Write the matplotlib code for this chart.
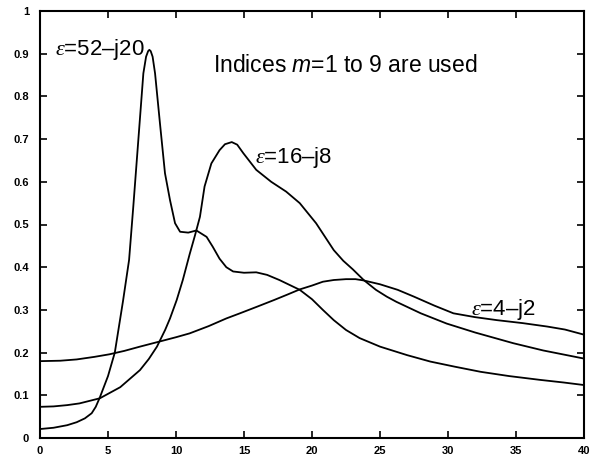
import matplotlib
matplotlib.use('Agg')
import matplotlib.pyplot as plt

####################################################################################################

plt.rcParams['font.family'] = ['Liberation Sans', 'DejaVu Sans']
plt.rcParams['mathtext.fontset'] = 'custom'
plt.rcParams['mathtext.rm'] = 'Liberation Sans'
plt.rcParams['mathtext.it'] = 'Liberation Serif:italic'
plt.rcParams['mathtext.sf'] = 'Liberation Sans:italic'

####################################################################################################

## curve for eps = 52-j20
x_52 = [0, 1, 2, 2.7, 3.3, 3.8, 4.1, 4.4, 5.0, 5.5, 6.1, 6.55, 6.86, 7.23, 7.6, 7.8, 7.95, 8.04,
        8.14, 8.28, 8.46, 8.82, 9.19, 9.56, 9.93, 10.3, 10.9, 11.5, 12.25, 12.7, 13.2, 13.7, 14.2,
        15.0, 15.9, 16.7, 17.6, 19.1, 20.0, 20.8, 21.6, 22.5, 23.5, 25, 27, 28.7, 30.5, 32.4,
        34.5, 36.8, 38.5, 40]
y_52 = [0.021, 0.024, 0.030, 0.037, 0.046, 0.058, 0.073, 0.095, 0.145, 0.200, 0.320, 0.417, 0.542,
        0.698, 0.854, 0.893, 0.906, 0.909, 0.906, 0.893, 0.854, 0.737, 0.620, 0.557, 0.503, 0.483,
        0.481, 0.486, 0.471, 0.448, 0.420, 0.400, 0.390, 0.387, 0.388, 0.382, 0.370, 0.347, 0.325,
        0.300, 0.276, 0.253, 0.234, 0.214, 0.194, 0.179, 0.167, 0.155, 0.145, 0.136, 0.130, 0.124]

## curve for eps = 16-j8
x_16 = [0, 1, 2, 2.9, 4.4, 5.9, 7.35, 8.0, 8.6, 9.2, 9.56, 10.05, 10.5, 11.0, 11.4, 11.76, 12.1,
        12.6, 13.2, 13.6, 14.1, 14.5, 14.95, 15.9, 17.0, 18.1, 19.1, 20.3, 21.6, 22.3, 23.0, 23.8,
        24.7, 25.5, 26.2, 28, 29.9, 32, 34.8, 37, 40]
y_16 = [0.073, 0.074, 0.077, 0.081, 0.093, 0.119, 0.159, 0.185, 0.214, 0.253, 0.280, 0.323, 0.370,
        0.430, 0.475, 0.518, 0.589, 0.643, 0.674, 0.688, 0.693, 0.687, 0.667, 0.628, 0.600, 0.577,
        0.550, 0.503, 0.440, 0.415, 0.395, 0.370, 0.347, 0.331, 0.319, 0.292, 0.268, 0.247, 0.222,
        0.205, 0.186]

## curve for eps = 4-j2
x_4 = [0, 1.5, 2.7, 4, 5.1, 6.2, 7.35, 8.8, 10, 11, 12.4, 13.7, 14.7, 16, 17.2, 18.2, 19.1, 20.0,
       20.8, 21.6, 22.5, 23.2, 23.8, 25, 26.3, 27.5, 29, 30.4, 32, 33.6, 35.5, 37.3, 38.6, 40]
y_4 = [0.180, 0.181, 0.184, 0.190, 0.196, 0.204, 0.214, 0.226, 0.236, 0.245, 0.262, 0.280, 0.292,
       0.308, 0.323, 0.336, 0.348, 0.357, 0.366, 0.370, 0.372, 0.372, 0.369, 0.360, 0.347, 0.331,
       0.310, 0.292, 0.283, 0.276, 0.269, 0.261, 0.254, 0.242]

x_ticks = [0, 5, 10, 15, 20, 25, 30, 35, 40]
y_ticks = [0, 0.1, 0.2, 0.3, 0.4, 0.5, 0.6, 0.7, 0.8, 0.9, 1]
y_tick_labels = ['0', '0.1', '0.2', '0.3', '0.4', '0.5', '0.6', '0.7', '0.8', '0.9', '1']

####################################################################################################

figure = plt.figure(figsize=(5.96, 4.58), dpi=100)
ax = figure.add_axes([40/596, 20/458, 544/596, 427/458])

for x, y in ((x_52, y_52), (x_16, y_16), (x_4, y_4)):
    ax.plot(x, y, color='black', linewidth=1.3, solid_joinstyle='round')

ax.set_xlim(0, 40)
ax.set_ylim(0, 1)
ax.set_xticks(x_ticks)
ax.set_yticks(y_ticks)
ax.set_yticklabels(y_tick_labels)
ax.tick_params(direction='in', length=5, width=1.2, top=True, right=True,
               labelsize=8)
ax.tick_params(axis='y', pad=8)
ax.tick_params(axis='x', pad=6)
for label in ax.get_xticklabels() + ax.get_yticklabels():
    label.set_fontweight('bold')
for spine in ax.spines.values():
    spine.set_linewidth(1.5)

ax.text(1.1, 0.909, r'$\varepsilon$=52–j20', fontsize=16, va='center', ha='left')
ax.text(15.8, 0.658, r'$\varepsilon$=16–j8', fontsize=16, va='center', ha='left')
ax.text(31.7, 0.30, r'$\varepsilon$=4–j2', fontsize=16, va='center', ha='left')
ax.text(12.7, 0.873, r'Indices $\mathsf{m}$=1 to 9 are used', fontsize=16.5, va='center', ha='left')

figure.savefig('out.png', dpi=100)
